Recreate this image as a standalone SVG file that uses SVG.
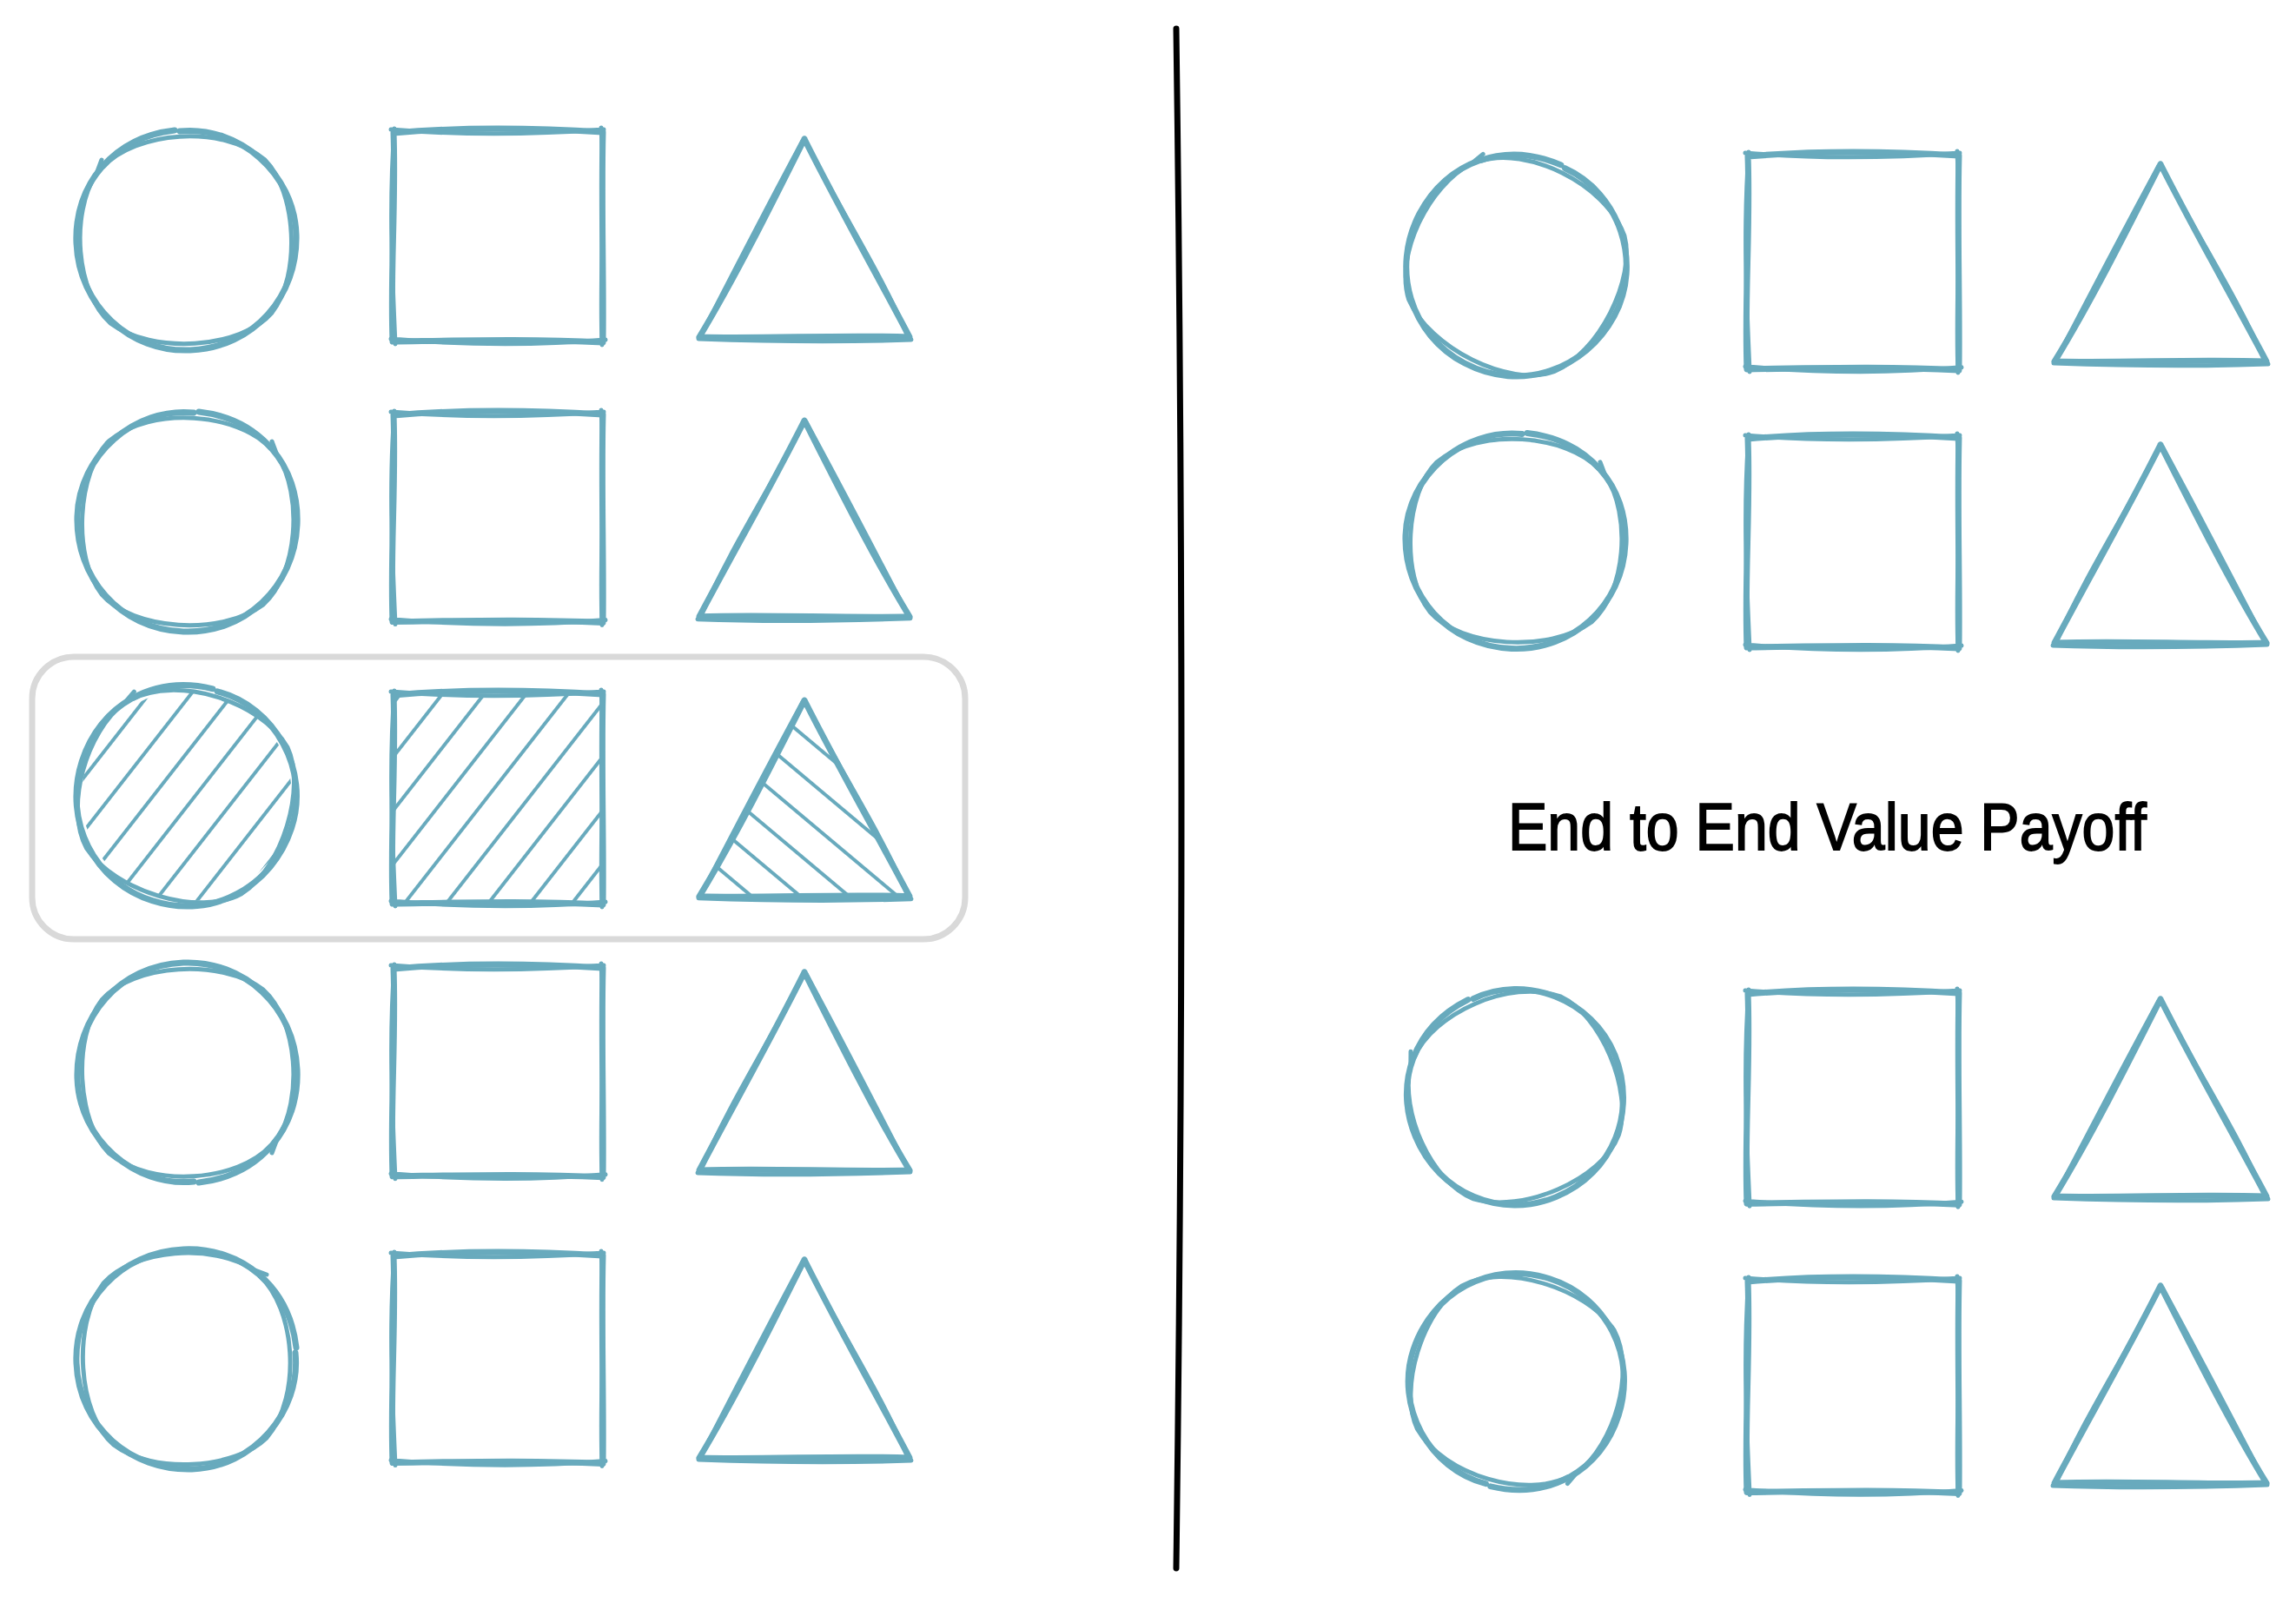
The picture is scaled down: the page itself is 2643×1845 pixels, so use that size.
<svg xmlns="http://www.w3.org/2000/svg" xmlns:xlink="http://www.w3.org/1999/xlink" width="2643" height="1845" viewBox="0 0 2643 1845">
<style>
.sk{fill:none;stroke:#68aabd;stroke-width:7;stroke-linecap:round;stroke-linejoin:round}
.sk2{fill:none;stroke:#68aabd;stroke-width:5;stroke-linecap:round;stroke-linejoin:round}
.hl{fill:none;stroke:#d9d9d9;stroke-width:7}
.div{fill:none;stroke:#000;stroke-width:7;stroke-linecap:round}
.lbl{font-family:"Liberation Sans","DejaVu Sans",sans-serif;font-size:76px;fill:#000;stroke:#000;stroke-width:1.8}
</style>
<defs>
<pattern id="hatchUp" patternUnits="userSpaceOnUse" width="40" height="38" patternTransform="rotate(-52)">
<line x1="-10" y1="19" x2="50" y2="19" stroke="#68aabd" stroke-width="4"/>
</pattern>
<pattern id="hatchDown" patternUnits="userSpaceOnUse" width="40" height="36" patternTransform="rotate(40)">
<line x1="-10" y1="18" x2="50" y2="18" stroke="#68aabd" stroke-width="4"/>
</pattern>
<g id="circA">
<path class="sk" d="M-8 -125 C60 -132 124 -76 126 -6 C128 64 78 124 4 127 C-66 130 -124 76 -127 4 C-130 -64 -84 -118 -14 -126"/>
<path class="sk2" d="M-96 -84 C-60 -124 40 -134 90 -92 C126 -56 132 40 98 84 C62 126 -40 132 -88 96 C-128 60 -134 -30 -104 -76 L-98 -92"/>
</g>
<g id="sqA">
<path class="sk" d="M1 3 C80 -4 162 -3 242 2 C240 82 243 164 242 244 C162 240 80 242 0 243 C-3 162 4 82 1 3"/>
<path class="sk2" d="M-2 -1 C82 6 160 5 243 -1 M240 -3 C245 80 238 165 241 247 M245 241 C160 248 80 247 -2 240 M3 246 C-1 160 -4 80 2 -2"/>
</g>
<g id="triA">
<path class="sk" d="M0 0 C-40 80 -80 160 -121 228 C-40 230 40 225 121 228 C80 150 40 80 0 0"/>
<path class="sk2" d="M1 3 C40 80 86 150 119 227 M123 231 C40 234 -40 233 -122 230 M-119 226 C-80 150 -44 80 -2 2"/>
</g>
</defs>

<g id="divider">
<path class="div" d="M1354 33 Q1366 900 1354 1805"/>
</g>

<g id="highlight">
<rect class="hl" x="37" y="756" width="1074" height="325" rx="48" ry="48"/>
</g>

<!-- Left column -->
<g id="left-circle-1"><use xlink:href="#circA" transform="translate(215 276)"/></g>
<g id="left-square-1"><use xlink:href="#sqA" transform="translate(452 150)"/></g>
<g id="left-triangle-1"><use xlink:href="#triA" transform="translate(926 160)"/></g>

<g id="left-circle-2"><use xlink:href="#circA" transform="translate(215 600) scale(-1 1)"/></g>
<g id="left-square-2"><use xlink:href="#sqA" transform="translate(452 475) scale(1 0.99)"/></g>
<g id="left-triangle-2"><use xlink:href="#triA" transform="translate(926 484) scale(-1 0.99)"/></g>

<g id="left-circle-3">
<circle cx="215" cy="916" r="121" fill="url(#hatchUp)"/>
<use xlink:href="#circA" transform="translate(215 916) rotate(20)"/>
</g>
<g id="left-square-3">
<rect x="454" y="799" width="238" height="242" fill="url(#hatchUp)"/>
<use xlink:href="#sqA" transform="translate(452 797)"/>
</g>
<g id="left-triangle-3">
<polygon points="926,810 808,1030 1046,1030" fill="url(#hatchDown)"/>
<use xlink:href="#triA" transform="translate(926 806) scale(1 0.99)"/>
</g>

<g id="left-circle-4"><use xlink:href="#circA" transform="translate(215 1235) rotate(180)"/></g>
<g id="left-square-4"><use xlink:href="#sqA" transform="translate(452 1112) scale(1 0.995)"/></g>
<g id="left-triangle-4"><use xlink:href="#triA" transform="translate(926 1119) scale(-1 1)"/></g>

<g id="left-circle-5"><use xlink:href="#circA" transform="translate(215 1565) rotate(90)"/></g>
<g id="left-square-5"><use xlink:href="#sqA" transform="translate(452 1443) scale(1 0.99)"/></g>
<g id="left-triangle-5"><use xlink:href="#triA" transform="translate(926 1450)"/></g>

<!-- Right column -->
<g id="right-circle-1"><use xlink:href="#circA" transform="translate(1746 306) rotate(30)"/></g>
<g id="right-square-1"><use xlink:href="#sqA" transform="translate(2011 177) scale(1.008 1.02)"/></g>
<g id="right-triangle-1"><use xlink:href="#triA" transform="translate(2487 189) scale(1.008 0.996)"/></g>

<g id="right-circle-2"><use xlink:href="#circA" transform="translate(1744 622) scale(-1 0.98)"/></g>
<g id="right-square-2"><use xlink:href="#sqA" transform="translate(2011 502) scale(1.008 1.0)"/></g>
<g id="right-triangle-2"><use xlink:href="#triA" transform="translate(2487 512) scale(-1.008 1)"/></g>

<g id="text-node">
<text class="lbl" x="1736" y="978" textLength="735" lengthAdjust="spacingAndGlyphs">End to End Value Payoff</text>
</g>

<g id="right-circle-3"><use xlink:href="#circA" transform="translate(1745 1262) rotate(-20) scale(0.98)"/></g>
<g id="right-square-3"><use xlink:href="#sqA" transform="translate(2011 1141) scale(1.008 1.005)"/></g>
<g id="right-triangle-3"><use xlink:href="#triA" transform="translate(2487 1150) scale(1.008 0.996)"/></g>

<g id="right-circle-4"><use xlink:href="#circA" transform="translate(1745 1590) rotate(200) scale(0.98)"/></g>
<g id="right-square-4"><use xlink:href="#sqA" transform="translate(2011 1472) scale(1.008 1.01)"/></g>
<g id="right-triangle-4"><use xlink:href="#triA" transform="translate(2487 1480) scale(-1.008 0.996)"/></g>
</svg>
